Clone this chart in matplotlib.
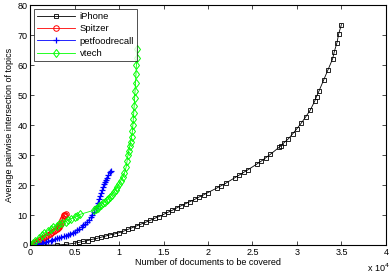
import matplotlib
matplotlib.use("Agg")
import matplotlib.pyplot as plt

plt.rcParams["font.family"] = ["Liberation Sans", "DejaVu Sans"]

# x in units of 10^4 documents
iphone_x = [0.15, 0.3, 0.4, 0.5, 0.55, 0.6, 0.65, 0.7, 0.75, 0.8, 0.85, 0.9, 0.95, 1.0, 1.05, 1.1,
            1.15, 1.2, 1.25, 1.3, 1.35, 1.4, 1.45, 1.5, 1.55, 1.6, 1.65, 1.7, 1.75, 1.8, 1.85, 1.9,
            1.95, 2.0, 2.1, 2.15, 2.2, 2.3, 2.35, 2.4, 2.45, 2.55, 2.6, 2.65, 2.7, 2.8, 2.82, 2.85,
            2.9, 2.95, 3.0, 3.05, 3.1, 3.15, 3.2, 3.22, 3.25, 3.3, 3.35, 3.4, 3.42, 3.45, 3.47, 3.5]
iphone_y = [0.0, 0.0, 0.2, 0.6, 0.9, 1.2, 1.5, 1.9, 2.2, 2.6, 3.0, 3.4, 3.7, 4.1, 4.6, 5.2,
            5.8, 6.4, 7.0, 7.6, 8.2, 8.9, 9.5, 10.2, 10.9, 11.6, 12.4, 13.1, 13.8, 14.5, 15.2, 16.0,
            16.7, 17.5, 19.0, 19.8, 20.6, 22.4, 23.3, 24.2, 25.1, 27.0, 28.0, 29.1, 30.2, 32.6, 33.1, 34.0,
            35.3, 37.0, 38.8, 40.7, 42.8, 45.0, 48.0, 49.5, 51.5, 55.0, 58.5, 62.0, 64.5, 67.5, 70.5, 73.5]

spitzer_x = [0.0, 0.02, 0.04, 0.05, 0.07, 0.08, 0.1, 0.12, 0.14, 0.15, 0.17, 0.18, 0.2, 0.22, 0.24,
             0.25, 0.27, 0.28, 0.3, 0.31, 0.32, 0.33, 0.34, 0.35, 0.36, 0.37, 0.38, 0.385, 0.39, 0.4]
spitzer_y = [0.0, 0.3, 0.6, 0.8, 1.1, 1.3, 1.7, 2.0, 2.3, 2.5, 2.8, 3.0, 3.4, 3.8, 4.1,
             4.3, 4.7, 5.0, 5.5, 5.7, 6.0, 6.4, 6.8, 7.5, 8.3, 9.0, 9.6, 9.9, 10.1, 10.4]

pet_x = [0.05, 0.08, 0.1, 0.13, 0.15, 0.18, 0.2, 0.23, 0.25, 0.28, 0.3, 0.33, 0.35, 0.38, 0.4,
         0.43, 0.45, 0.48, 0.5, 0.53, 0.55, 0.58, 0.6, 0.62, 0.64, 0.66, 0.68, 0.7, 0.72, 0.74,
         0.75, 0.76, 0.78, 0.79, 0.8, 0.81, 0.82, 0.83, 0.84, 0.85, 0.86, 0.88, 0.9, 0.91]
pet_y = [0.0, 0.2, 0.3, 0.6, 0.8, 1.0, 1.2, 1.5, 1.7, 2.0, 2.2, 2.5, 2.7, 2.9, 3.1,
         3.5, 3.8, 4.1, 4.4, 5.0, 5.4, 6.1, 6.6, 7.1, 7.7, 8.4, 9.2, 10.0, 11.0, 12.2,
         13.0, 14.0, 15.5, 16.4, 17.3, 18.3, 19.3, 20.2, 21.0, 21.7, 22.3, 23.3, 24.2, 24.7]

vtech_x = [0.0, 0.03, 0.06, 0.1, 0.13, 0.16, 0.2, 0.23, 0.26, 0.3, 0.33, 0.36, 0.4, 0.43, 0.46,
           0.5, 0.53, 0.56, 0.72, 0.74, 0.76, 0.78, 0.8, 0.82, 0.84, 0.86, 0.88, 0.9, 0.92, 0.94,
           0.96, 0.98, 1.0, 1.02, 1.04, 1.06, 1.08, 1.09, 1.1, 1.11, 1.12, 1.13, 1.14, 1.15, 1.155,
           1.16, 1.165, 1.17, 1.175, 1.18, 1.185, 1.19, 1.195, 1.198, 1.2]
vtech_y = [0.0, 0.8, 1.5, 2.5, 3.2, 4.0, 4.8, 5.4, 6.0, 6.5, 7.0, 7.4, 7.8, 8.3, 8.8,
           9.2, 9.7, 10.2, 11.6, 12.0, 12.4, 12.9, 13.4, 13.9, 14.4, 14.9, 15.5, 16.1, 16.8, 17.6,
           18.4, 19.3, 20.3, 21.4, 22.6, 24.0, 26.0, 28.0, 30.0, 31.5, 33.0, 34.5, 36.0, 38.0, 40.0,
           42.0, 44.0, 46.5, 49.0, 51.5, 54.0, 57.0, 60.0, 62.5, 65.5]

fig = plt.figure(figsize=(3.91, 2.80), dpi=100)
ax = fig.add_axes([0.077, 0.125, 0.910, 0.857])

ax.plot(iphone_x, iphone_y, color="black", marker="s", ms=3.2, mfc="none", mew=0.6, lw=0.6, label="iPhone")
ax.plot(spitzer_x, spitzer_y, color="red", marker="o", ms=4.0, mfc="none", mew=0.7, lw=0.6, label="Spitzer")
ax.plot(pet_x, pet_y, color="blue", marker="+", ms=4.5, mew=0.9, lw=0.6, label="petfoodrecall")
ax.plot(vtech_x, vtech_y, color="#00ff00", marker="d", ms=4.5, mfc="none", mew=0.7, lw=0.6, label="vtech")

ax.set_xlim(0, 4)
ax.set_ylim(0, 80)
ax.set_xticks([0, 0.5, 1, 1.5, 2, 2.5, 3, 3.5, 4])
ax.set_xticklabels(["0", "0.5", "1", "1.5", "2", "2.5", "3", "3.5", "4"])
ax.set_yticks(range(0, 81, 10))
ax.tick_params(direction="in", top=True, right=True, labelsize=6.5, length=3, width=0.5, pad=2)
for s in ax.spines.values():
    s.set_linewidth(0.8)

ax.set_xlabel("Number of documents to be covered", fontsize=6.5, labelpad=1)
ax.set_ylabel("Average pairwise intersection of topics", fontsize=6.5, labelpad=2)
fig.text(0.996, 0.045, "x 10$^4$", fontsize=6.5, ha="right", va="center")

leg = ax.legend(loc="upper left", fontsize=6.8, frameon=True, fancybox=False, edgecolor="black",
                borderpad=0.35, labelspacing=0.35, handlelength=4.0, handletextpad=0.5,
                borderaxespad=0.4)
leg.get_frame().set_linewidth(0.6)

fig.savefig("out.png", dpi=100)
